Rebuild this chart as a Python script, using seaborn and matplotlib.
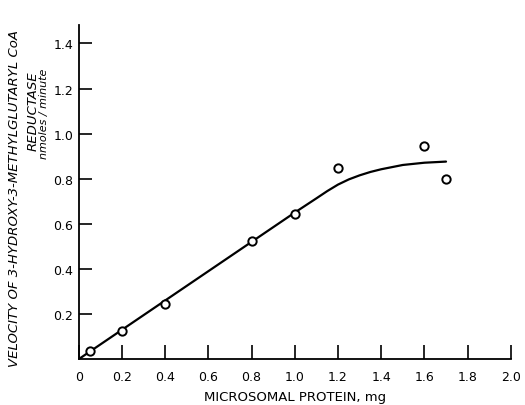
import matplotlib
matplotlib.use("Agg")
import matplotlib.pyplot as plt
import seaborn as sns
import pandas as pd

# measured points
protein_mg = [0.05, 0.2, 0.4, 0.8, 1.0, 1.2, 1.6, 1.7]
velocity = [0.035, 0.126, 0.244, 0.522, 0.642, 0.848, 0.945, 0.797]

# hand-drawn fit curve
curve_x = [0.0, 0.2, 0.4, 0.6, 0.8, 1.0, 1.1, 1.15, 1.2, 1.25, 1.3, 1.35, 1.4, 1.5, 1.6, 1.7]
curve_y = [0.0, 0.13, 0.26, 0.39, 0.52, 0.65, 0.713, 0.745, 0.774, 0.797, 0.815, 0.830, 0.842, 0.861, 0.871, 0.876]

xticks = [0, 0.2, 0.4, 0.6, 0.8, 1.0, 1.2, 1.4, 1.6, 1.8, 2.0]
xtick_labels = ["0", "0.2", "0.4", "0.6", "0.8", "1.0", "1.2", "1.4", "1.6", "1.8", "2.0"]
yticks = [0.2, 0.4, 0.6, 0.8, 1.0, 1.2, 1.4]
ytick_labels = ["0.2", "0.4", "0.6", "0.8", "1.0", "1.2", "1.4"]

pts = pd.DataFrame({"x": protein_mg, "y": velocity})
fit = pd.DataFrame({"x": curve_x, "y": curve_y})

sns.set_style("ticks")
plt.rcParams["font.family"] = ["DejaVu Sans"]
plt.rcParams["text.color"] = "black"
plt.rcParams["axes.labelcolor"] = "black"
plt.rcParams["xtick.color"] = "black"
plt.rcParams["ytick.color"] = "black"

fig = plt.figure(figsize=(5.25, 4.06), dpi=100)
ax = fig.add_axes([0.150, 0.113, 0.823, 0.822])

sns.lineplot(data=fit, x="x", y="y", color="black", lw=1.6, ax=ax, zorder=2)
sns.scatterplot(data=pts, x="x", y="y", marker="o", s=36, facecolor="white",
                edgecolor="black", linewidth=1.4, ax=ax, zorder=3)

ax.set_xlim(0, 2.0)
ax.set_ylim(0, 1.48)
ax.set_xticks(xticks)
ax.set_xticklabels(xtick_labels, fontsize=9)
ax.set_yticks(yticks)
ax.set_yticklabels(ytick_labels, fontsize=9)
ax.tick_params(axis="x", direction="in", length=10, width=1.2, pad=8)
ax.tick_params(axis="y", direction="in", length=9, width=1.2, pad=4)
sns.despine(ax=ax)
for s in ["left", "bottom"]:
    ax.spines[s].set_linewidth(1.3)
    ax.spines[s].set_color("black")

ax.set_xlabel("MICROSOMAL PROTEIN, mg", fontsize=9.5, labelpad=5)
ax.set_ylabel("")
fig.text(0.028, 0.51, "VELOCITY OF 3-HYDROXY-3-METHYLGLUTARYL CoA",
         rotation=90, ha="center", va="center", fontsize=9.5, style="italic")
fig.text(0.063, 0.725, "REDUCTASE", rotation=90, ha="center", va="center",
         fontsize=9.5, style="italic")
fig.text(0.083, 0.72, "nmoles / minute", rotation=90, ha="center", va="center",
         fontsize=8, style="italic")

fig.savefig("out.png", dpi=100)
